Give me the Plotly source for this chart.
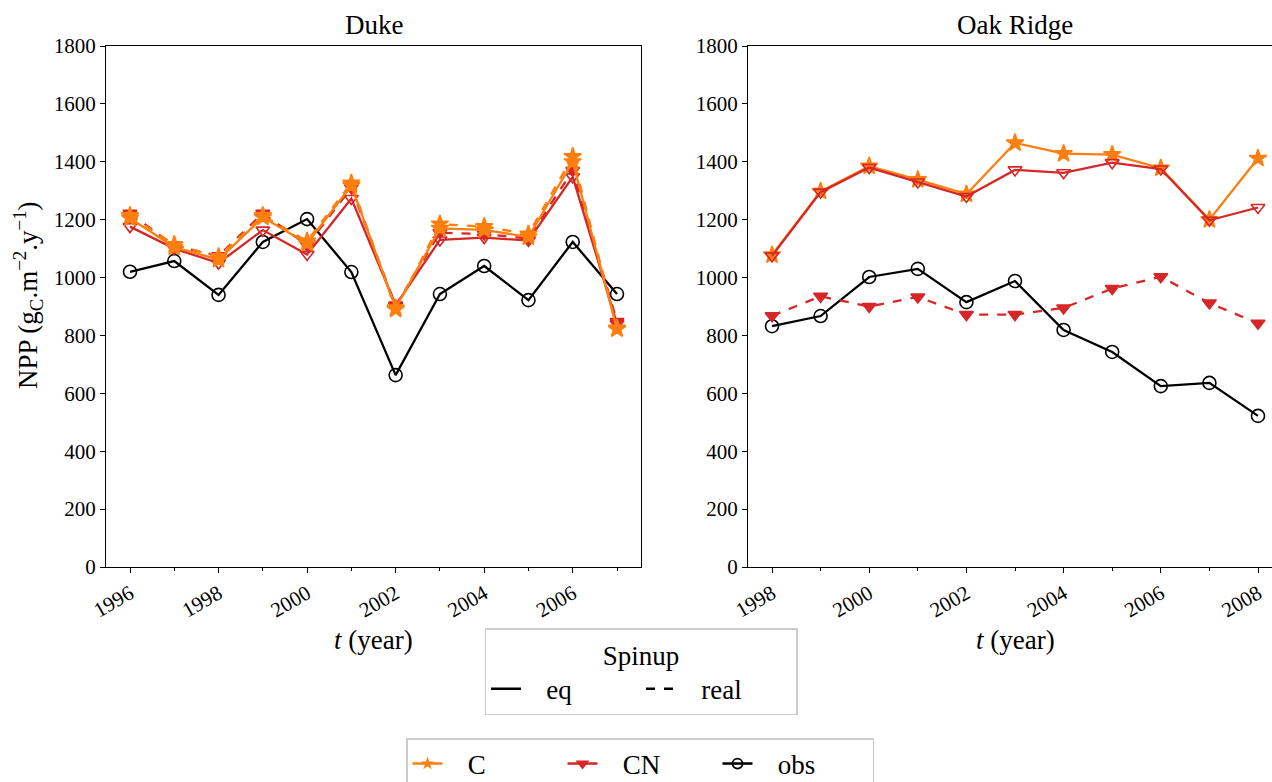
import plotly.graph_objects as go

# ---------------- data ----------------
duke_years = list(range(1996, 2008))
duke_obs = [1020, 1057, 940, 1123, 1202, 1019, 663, 943, 1040, 922, 1123, 943]
duke_C_eq = [1205, 1105, 1062, 1208, 1118, 1318, 895, 1170, 1165, 1140, 1400, 822]
duke_C_real = [1214, 1114, 1072, 1214, 1126, 1326, 890, 1185, 1176, 1150, 1418, 825]
duke_CN_eq = [1176, 1100, 1050, 1164, 1080, 1273, 905, 1130, 1138, 1128, 1348, 840]
duke_CN_real = [1222, 1110, 1075, 1222, 1112, 1310, 902, 1155, 1150, 1135, 1370, 848]

oak_years = list(range(1998, 2009))
oak_obs = [832, 867, 1002, 1030, 915, 988, 819, 743, 625, 636, 522]
oak_C_eq = [1078, 1298, 1385, 1338, 1288, 1465, 1428, 1425, 1378, 1200, 1412]
oak_CN_eq = [1075, 1295, 1380, 1330, 1280, 1372, 1362, 1397, 1375, 1198, 1242]
oak_CN_real = [868, 935, 900, 933, 872, 872, 895, 962, 1003, 912, 842]

duke_ticks = [1996, 1998, 2000, 2002, 2004, 2006]
oak_ticks = [1998, 2000, 2002, 2004, 2006, 2008]
y_ticks = [0, 200, 400, 600, 800, 1000, 1200, 1400, 1600, 1800]

ORANGE = "#ff7f0e"
RED = "#d62728"
BLACK = "#000000"
FONT = "Liberation Serif"
NB = "\u00a0"

W, H = 1272, 782
TOP, BOTTOM = 46, 567          # plot area in px
PH = BOTTOM - TOP


def py(pix):
    """pixel row -> paper y"""
    return (BOTTOM - pix) / PH


fig = go.Figure()


def add_line(x, y, color, dash, symbol, xa, ya, size=12):
    fig.add_trace(go.Scatter(
        x=x, y=y, mode="lines+markers", xaxis=xa, yaxis=ya, showlegend=False,
        line=dict(color=color, width=2.3, dash=dash),
        marker=dict(symbol=symbol, size=size, color=color,
                    line=dict(color=color, width=1.6)),
        hoverinfo="x+y",
    ))


# Duke
add_line(duke_years, duke_obs, BLACK, "solid", "circle-open", "x", "y", size=13)
add_line(duke_years, duke_CN_eq, RED, "solid", "triangle-down-open", "x", "y")
add_line(duke_years, duke_CN_real, RED, "dash", "triangle-down", "x", "y")
add_line(duke_years, duke_C_eq, ORANGE, "solid", "star", "x", "y", size=13)
add_line(duke_years, duke_C_real, ORANGE, "dash", "star", "x", "y", size=13)

# Oak Ridge
add_line(oak_years, oak_obs, BLACK, "solid", "circle-open", "x2", "y2", size=13)
add_line(oak_years, oak_CN_real, RED, "dash", "triangle-down", "x2", "y2")
add_line(oak_years, oak_C_eq, ORANGE, "solid", "star", "x2", "y2", size=13)
add_line(oak_years, oak_CN_eq, RED, "solid", "triangle-down-open", "x2", "y2")

# legend entries (Spinup)
fig.add_trace(go.Scatter(x=[None], y=[None], mode="lines", name=NB * 3 + "eq", legend="legend",
                         line=dict(color=BLACK, width=2.5, dash="solid")))
fig.add_trace(go.Scatter(x=[None], y=[None], mode="lines", name=NB * 3 + "real", legend="legend",
                         line=dict(color=BLACK, width=2.5, dash="dash")))
# legend entries (model)
fig.add_trace(go.Scatter(x=[None], y=[None], mode="lines+markers", name=NB * 3 + "C",
                         legend="legend2", line=dict(color=ORANGE, width=2.5),
                         marker=dict(symbol="star", size=10, color=ORANGE)))
fig.add_trace(go.Scatter(x=[None], y=[None], mode="lines+markers", name=NB * 3 + "CN",
                         legend="legend2", line=dict(color=RED, width=2.5),
                         marker=dict(symbol="triangle-down", size=12, color=RED)))
fig.add_trace(go.Scatter(x=[None], y=[None], mode="lines+markers", name=NB * 3 + "obs",
                         legend="legend2", line=dict(color=BLACK, width=2.5),
                         marker=dict(symbol="circle-open", size=10, color=BLACK,
                                     line=dict(width=1.8))))

axis_common = dict(
    showgrid=False, zeroline=False, showline=True, linecolor=BLACK, linewidth=1.2,
    ticks="outside", ticklen=5, tickwidth=1.2, tickcolor=BLACK,
    tickfont=dict(family=FONT, size=21, color=BLACK),
)

px_year_duke = (617 - 130) / 11.0
px_year_oak = (1258 - 772) / 10.0

fig.update_layout(
    width=W, height=H,
    paper_bgcolor="white", plot_bgcolor="white",
    margin=dict(l=0, r=0, t=TOP, b=H - BOTTOM, autoexpand=False),
    font=dict(family=FONT, color=BLACK),
    xaxis=dict(**axis_common, domain=[106 / W, 641 / W], anchor="y",
               range=[1996 - 24 / px_year_duke, 2007 + 24 / px_year_duke],
               tickvals=duke_ticks, ticktext=[str(t) for t in duke_ticks],
               tickangle=-30, mirror=True,
               minor=dict(dtick=1, tick0=1996, ticks="outside", ticklen=3,
                          tickwidth=1, tickcolor=BLACK)),
    yaxis=dict(**axis_common, domain=[0, 1], anchor="x", range=[0, 1800],
               tickvals=y_ticks, mirror=True),
    xaxis2=dict(**axis_common, domain=[748 / W, 1.0], anchor="y2",
                range=[1998 - 24 / px_year_oak, 2008 + 14 / px_year_oak],
                tickvals=oak_ticks, ticktext=[str(t) for t in oak_ticks],
                tickangle=-30, mirror=True,
                minor=dict(dtick=1, tick0=1998, ticks="outside", ticklen=3,
                           tickwidth=1, tickcolor=BLACK)),
    yaxis2=dict(**axis_common, domain=[0, 1], anchor="x2", range=[0, 1800],
                tickvals=y_ticks, mirror=False),
    legend=dict(
        title=dict(text="Spinup", side="top center", font=dict(family=FONT, size=27)),
        orientation="h", x=641 / W, xanchor="center", y=py(628), yanchor="top",
        bgcolor="white", bordercolor="#cccccc", borderwidth=1.5,
        font=dict(family=FONT, size=27), entrywidth=110,
    ),
    legend2=dict(
        orientation="h", x=640 / W, xanchor="center", y=py(738), yanchor="top",
        bgcolor="white", bordercolor="#cccccc", borderwidth=1.5,
        font=dict(family=FONT, size=27), entrywidth=110,
    ),
    annotations=[
        dict(text="Duke", x=(106 + 641) / 2 / W, y=py(25), xref="paper", yref="paper",
             xanchor="center", yanchor="middle", showarrow=False,
             font=dict(family=FONT, size=27, color=BLACK)),
        dict(text="Oak Ridge", x=(748 + 1283) / 2 / W, y=py(25), xref="paper", yref="paper",
             xanchor="center", yanchor="middle", showarrow=False,
             font=dict(family=FONT, size=27, color=BLACK)),
        dict(text="<i>t</i> (year)", x=(106 + 641) / 2 / W, y=py(640), xref="paper",
             yref="paper", xanchor="center", yanchor="middle", showarrow=False,
             font=dict(family=FONT, size=27, color=BLACK)),
        dict(text="<i>t</i> (year)", x=(748 + 1283) / 2 / W, y=py(640), xref="paper",
             yref="paper", xanchor="center", yanchor="middle", showarrow=False,
             font=dict(family=FONT, size=27, color=BLACK)),
        dict(text="NPP (g<sub>C</sub>.m<sup>\u22122</sup>.y<sup>\u22121</sup>)",
             x=28 / W, y=py(295), xref="paper", yref="paper", textangle=-90,
             xanchor="center", yanchor="middle", showarrow=False,
             font=dict(family=FONT, size=27, color=BLACK)),
    ],
)

fig.write_html("out.html", config={"displayModeBar": False},
               post_script="document.body.style.margin='0';document.body.style.padding='0';")
